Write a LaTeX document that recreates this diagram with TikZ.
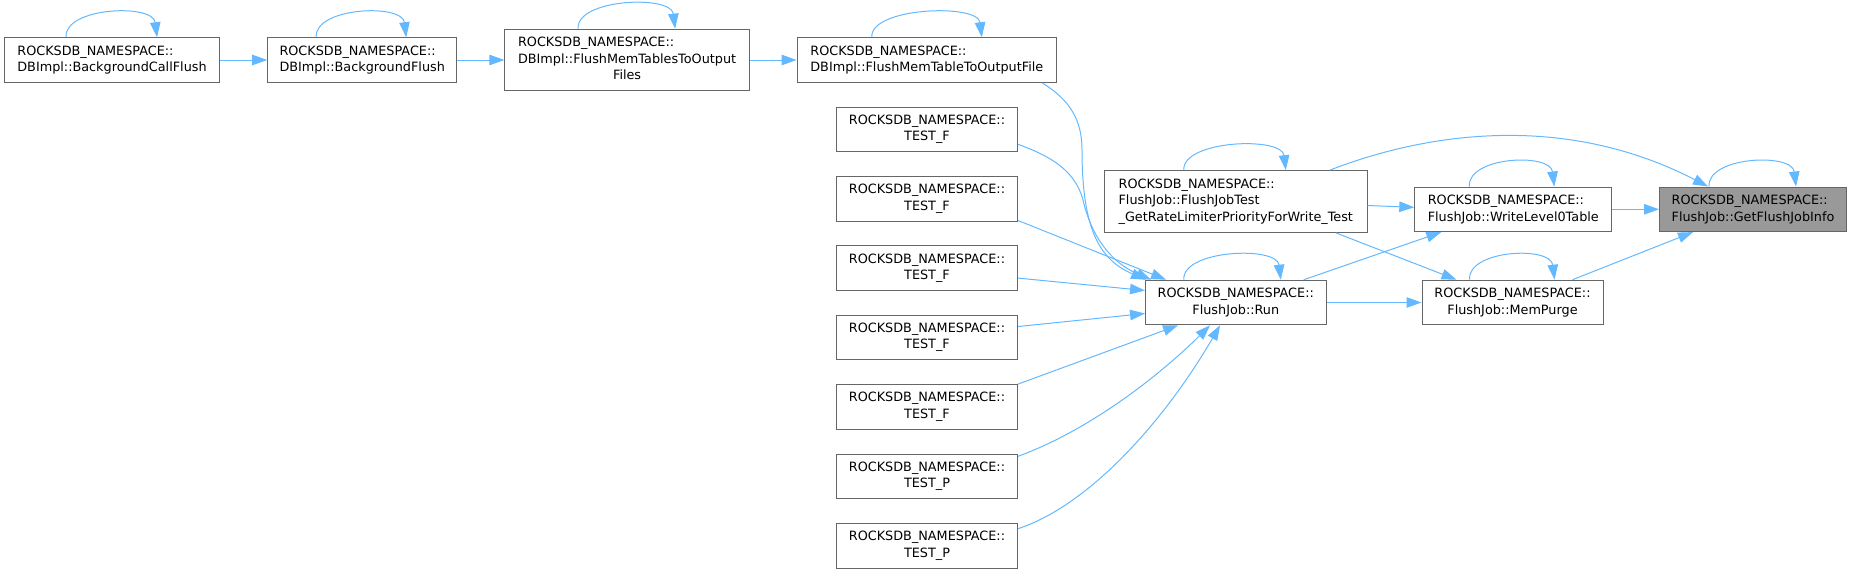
\documentclass[tikz,border=0pt]{standalone}
\usepackage{fontspec}
\setmainfont{DejaVu Sans}
\usetikzlibrary{arrows.meta}

\definecolor{edgeblue}{HTML}{63B8FF}
\definecolor{boxgray}{HTML}{666666}
\definecolor{curgray}{HTML}{999999}

\tikzset{
  fn/.style={draw=boxgray, line width=1pt, fill=white, inner sep=0pt,
    minimum height=44.6, align=left, font=\fontsize{12.8}{16.5}\selectfont},
  fnc/.style={fn, align=center},
  call/.style={->, draw=edgeblue, line width=1pt},
}

\begin{document}
\begin{tikzpicture}[x=1pt, y=1pt, >={Triangle[length=15pt,width=10.5pt]}]
        \useasboundingbox (0,0) rectangle (1852,-573);

        % top row: DBImpl
        \node[fn, minimum width=215] (bcf) at (112,-60) {ROCKSDB\_NAMESPACE::\\DBImpl::BackgroundCallFlush};
        \node[fn, minimum width=189] (bf) at (362.2,-60) {ROCKSDB\_NAMESPACE::\\DBImpl::BackgroundFlush};
        \node[fn, minimum width=244.4, minimum height=61.7] (fmts) at (627.1,-60) {\begin{tabular}{@{}l@{}}ROCKSDB\_NAMESPACE::\\DBImpl::FlushMemTablesToOutput\\\multicolumn{1}{@{}c@{}}{Files}\end{tabular}};
        \node[fn, minimum width=259.5] (fmt) at (926.8,-60) {ROCKSDB\_NAMESPACE::\\DBImpl::FlushMemTableToOutputFile};

        % tests
        \node[fnc, minimum width=181] (t1) at (927,-129.3) {ROCKSDB\_NAMESPACE::\\TEST\_F};
        \node[fnc, minimum width=181] (t2) at (927,-198.7) {ROCKSDB\_NAMESPACE::\\TEST\_F};
        \node[fnc, minimum width=181] (t3) at (927,-268.1) {ROCKSDB\_NAMESPACE::\\TEST\_F};
        \node[fnc, minimum width=181] (t4) at (927,-337.5) {ROCKSDB\_NAMESPACE::\\TEST\_F};
        \node[fnc, minimum width=181] (t5) at (927,-406.9) {ROCKSDB\_NAMESPACE::\\TEST\_F};
        \node[fnc, minimum width=181] (t6) at (927,-476.3) {ROCKSDB\_NAMESPACE::\\TEST\_P};
        \node[fnc, minimum width=181] (t7) at (927,-545.7) {ROCKSDB\_NAMESPACE::\\TEST\_P};

        % FlushJob
        \node[fn, minimum width=262.4, minimum height=61.7] (test) at (1235.8,-201.5) {ROCKSDB\_NAMESPACE::\\FlushJob::FlushJobTest\\\_GetRateLimiterPriorityForWrite\_Test};
        \node[fnc, minimum width=180.5] (run) at (1235.8,-302.5) {ROCKSDB\_NAMESPACE::\\FlushJob::Run};
        \node[fn, minimum width=197] (wl0) at (1513.3,-209.3) {ROCKSDB\_NAMESPACE::\\FlushJob::WriteLevel0Table};
        \node[fnc, minimum width=181] (mp) at (1512.5,-302.5) {ROCKSDB\_NAMESPACE::\\FlushJob::MemPurge};
        \node[fn, fill=curgray, minimum width=187] (gfji) at (1753,-209.3) {ROCKSDB\_NAMESPACE::\\FlushJob::GetFlushJobInfo};

        % self calls
        \draw[call] ([xshift=-46]bcf.north) .. controls ([xshift=-48,yshift=30]bcf.north) and ([xshift=41,yshift=34]bcf.north) .. ([xshift=45]bcf.north);
        \draw[call] ([xshift=-46]bf.north) .. controls ([xshift=-48,yshift=30]bf.north) and ([xshift=40,yshift=34]bf.north) .. ([xshift=44]bf.north);
        \draw[call] ([xshift=-49]fmts.north) .. controls ([xshift=-51,yshift=30]fmts.north) and ([xshift=44,yshift=34]fmts.north) .. ([xshift=48]fmts.north);
        \draw[call] ([xshift=-55]fmt.north) .. controls ([xshift=-57,yshift=30]fmt.north) and ([xshift=51,yshift=34]fmt.north) .. ([xshift=55]fmt.north);
        \draw[call] ([xshift=-52]test.north) .. controls ([xshift=-54,yshift=30]test.north) and ([xshift=46,yshift=34]test.north) .. ([xshift=50]test.north);
        \draw[call] ([xshift=-52]run.north) .. controls ([xshift=-54,yshift=30]run.north) and ([xshift=41,yshift=34]run.north) .. ([xshift=45]run.north);
        \draw[call] ([xshift=-44]wl0.north) .. controls ([xshift=-46,yshift=30]wl0.north) and ([xshift=37,yshift=34]wl0.north) .. ([xshift=41]wl0.north);
        \draw[call] ([xshift=-43]mp.north) .. controls ([xshift=-45,yshift=30]mp.north) and ([xshift=38,yshift=34]mp.north) .. ([xshift=42]mp.north);
        \draw[call] ([xshift=-44]gfji.north) .. controls ([xshift=-46,yshift=30]gfji.north) and ([xshift=39,yshift=34]gfji.north) .. ([xshift=43]gfji.north);

        % chain
        \draw[call] (bcf.east) -- (bf.west);
        \draw[call] (bf.east) -- (fmts.west);
        \draw[call] (fmts.east) -- (fmt.west);
        \draw[call] ([xshift=-15]fmt.south east) .. controls (1070,-100) and (1082,-120) .. (1082,-150) .. controls (1082,-230) and (1100,-260) .. ([xshift=1]run.north west);

        % callers of Run
        \draw[call] ([yshift=-15]t1.east) .. controls (1050,-156) and (1075,-170) .. (1083,-200) .. controls (1091,-235) and (1110,-262) .. ([xshift=6]run.north west);
        \draw[call] ([yshift=1]t2.south east) -- ([xshift=21]run.north west);
        \draw[call] ([yshift=-10]t3.east) -- ([yshift=12]run.west);
        \draw[call] ([yshift=11]t4.east) -- ([yshift=-11]run.west);
        \draw[call] (t5.north east) -- ([xshift=33]run.south west);
        \draw[call] ([yshift=20]t6.east) .. controls (1090,-430) and (1160,-375) .. ([xshift=65]run.south west);
        \draw[call] ([yshift=17]t7.east) .. controls (1090,-505) and (1165,-420) .. ([xshift=75]run.south west);

        % FlushJob calls
        \draw[call] ([xshift=68]run.north) -- ([xshift=27]wl0.south west);
        \draw[call] (run.east) -- (mp.west);
        \draw[call] ([yshift=-4]test.east) -- ([yshift=2]wl0.west);
        \draw[call] ([xshift=100]test.south) -- ([xshift=35]mp.north west);
        \draw[call] ([xshift=94]test.north) .. controls (1420,-135) and (1560,-110) .. ([xshift=49]gfji.north west);
        \draw[call] (wl0.east) -- (gfji.west);
        \draw[call] ([xshift=60]mp.north) -- ([xshift=34]gfji.south west);
\end{tikzpicture}
\end{document}
